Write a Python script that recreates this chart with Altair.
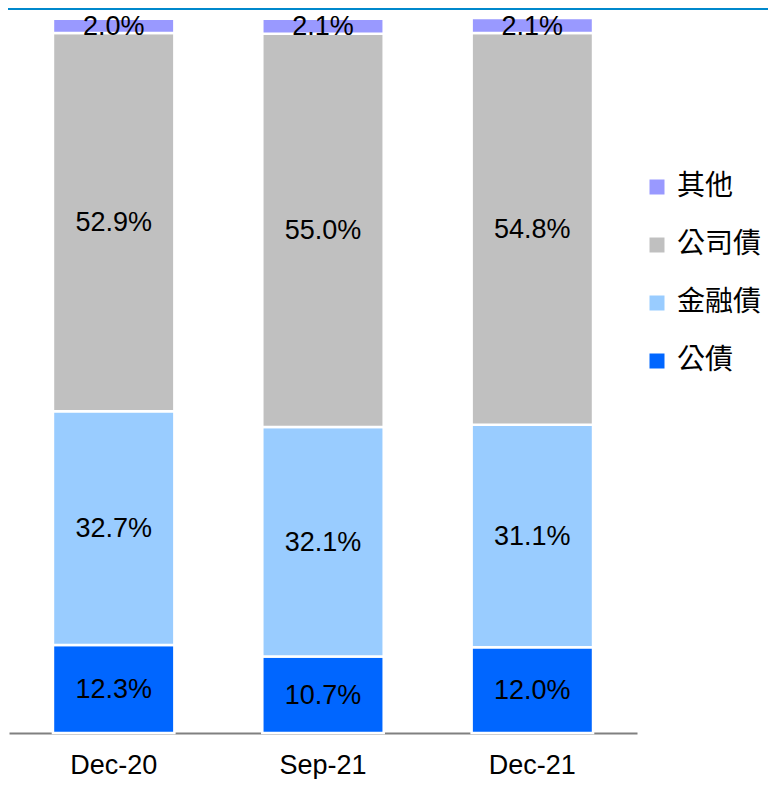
import altair as alt
import pandas as pd

periods = ["Dec-20", "Sep-21", "Dec-21"]
series = ["公債", "金融債", "公司債", "其他"]
values = {
    "公債": [12.3, 10.7, 12.0],
    "金融債": [32.7, 32.1, 31.1],
    "公司債": [52.9, 55.0, 54.8],
    "其他": [2.0, 2.1, 2.1],
}
colors = {"其他": "#9999FF", "公司債": "#C0C0C0", "金融債": "#99CCFF", "公債": "#0066FF"}
legend_order = ["其他", "公司債", "金融債", "公債"]

rows = []
for si, s in enumerate(series):
    for pi, p in enumerate(periods):
        rows.append({"period": p, "series": s, "order": si, "value": values[s][pi]})
df = pd.DataFrame(rows)

NUM_FONT = "'Liberation Sans', Arial, sans-serif"
CJK_FONT = "'Noto Sans CJK TC', 'Noto Sans CJK SC', sans-serif"

W, H = 628, 725

base = alt.Chart(df).transform_stack(
    stack="value", groupby=["period"], as_=["y0", "y1"], sort=[alt.SortField("order", "ascending")]
).transform_calculate(
    mid="(datum.y0 + datum.y1) / 2",
    label="format(datum.value, '.1f') + '%'",
)

xenc = alt.X(
    "period:N",
    sort=periods,
    scale=alt.Scale(paddingInner=0.42, paddingOuter=0.21),
    axis=alt.Axis(
        title=None, labelAngle=0, ticks=False, labelPadding=19,
        labelFont=NUM_FONT, labelFontSize=27, labelColor="#000000",
        domainColor="#808080", domainWidth=2,
    ),
)
yscale = alt.Scale(domain=[0, 101.4])

bars = base.mark_bar(stroke="white", strokeWidth=2.5).encode(
    x=xenc,
    y=alt.Y("y0:Q", scale=yscale, axis=None),
    y2="y1:Q",
    color=alt.Color(
        "series:N",
        scale=alt.Scale(domain=legend_order, range=[colors[s] for s in legend_order]),
        legend=alt.Legend(
            title=None, orient="none", legendX=634, legendY=165,
            symbolType="square", symbolSize=225, symbolStrokeWidth=0,
            labelFont=CJK_FONT, labelFontSize=28, labelColor="#000000",
            rowPadding=30, labelOffset=6, padding=0, labelLimit=200,
        ),
    ),
)

texts = base.mark_text(font=NUM_FONT, fontSize=27, color="#000000", baseline="middle", dy=1).encode(
    x=alt.X("period:N", sort=periods),
    y=alt.Y("mid:Q", scale=yscale),
    text="label:N",
)

topline = alt.Chart(pd.DataFrame({"v": [0]})).mark_rule(color="#0088CC", strokeWidth=2).encode(
    x=alt.value(-1), x2=alt.value(759), y=alt.value(1)
)

chart = alt.layer(bars, texts, topline).properties(
    width=W, height=H,
    padding={"left": 1, "top": 0, "right": 131, "bottom": 46},
    autosize=alt.AutoSizeParams(type="none"),
).configure_view(stroke=None)

chart.save("out.html", embed_options={"renderer": "svg", "actions": False})
